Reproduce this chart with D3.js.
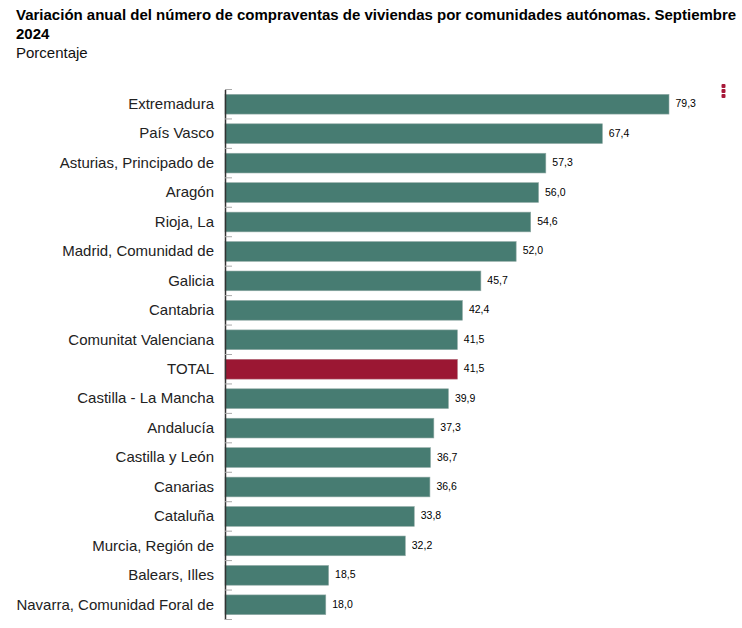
<!DOCTYPE html>
<html>
<head>
<meta charset="utf-8">
<script src="https://cdn.jsdelivr.net/npm/d3@7"></script>
<style>
  html, body { margin: 0; padding: 0; background: #fff; }
  svg { display: block; }
  text { font-family: "Liberation Sans", Arial, sans-serif; }
</style>
</head>
<body>
<script>
var categories = ["Extremadura", "País Vasco", "Asturias, Principado de", "Aragón", "Rioja, La",
  "Madrid, Comunidad de", "Galicia", "Cantabria", "Comunitat Valenciana", "TOTAL",
  "Castilla - La Mancha", "Andalucía", "Castilla y León", "Canarias", "Cataluña",
  "Murcia, Región de", "Balears, Illes", "Navarra, Comunidad Foral de"];
var values = [79.3, 67.4, 57.3, 56.0, 54.6, 52.0, 45.7, 42.4, 41.5, 41.5, 39.9, 37.3, 36.7, 36.6, 33.8, 32.2, 18.5, 18.0];
var valueLabels = ["79,3", "67,4", "57,3", "56,0", "54,6", "52,0", "45,7", "42,4", "41,5", "41,5", "39,9", "37,3", "36,7", "36,6", "33,8", "32,2", "18,5", "18,0"];
var titleLines = ["Variación anual del número de compraventas de viviendas por comunidades autónomas. Septiembre", "2024"];
var subtitle = "Porcentaje";

var width = 742, height = 628;
var margin = {top: 89.5, left: 225, bottom: 8.5};

var svg = d3.select("body").append("svg")
  .attr("width", width)
  .attr("height", height);

// Title
svg.selectAll(".title").data(titleLines).enter().append("text")
  .attr("class", "title")
  .attr("x", 16)
  .attr("y", function(d, i) { return 20 + i * 18.5; })
  .attr("font-size", "15px")
  .attr("font-weight", "bold")
  .attr("fill", "#000")
  .text(function(d) { return d; });

svg.append("text")
  .attr("x", 16)
  .attr("y", 58)
  .attr("font-size", "15px")
  .attr("fill", "#111")
  .text(subtitle);

// Scales
var x = d3.scaleLinear().domain([0, 79.3]).range([margin.left, 669]);
var y = d3.scaleBand().domain(categories)
  .range([margin.top, height - margin.bottom])
  .paddingInner(0.33).paddingOuter(0.165);

// Bars
svg.selectAll(".bar").data(categories).enter().append("rect")
  .attr("class", "bar")
  .attr("x", x(0))
  .attr("y", function(d) { return y(d); })
  .attr("width", function(d, i) { return x(values[i]) - x(0); })
  .attr("height", y.bandwidth())
  .attr("fill", function(d) { return d === "TOTAL" ? "#9b1733" : "#477c72"; })
  .attr("stroke", function(d) { return d === "TOTAL" ? "#b06a78" : "#8fa9a4"; })
  .attr("stroke-width", 0.6);

// Value labels
svg.selectAll(".val").data(categories).enter().append("text")
  .attr("class", "val")
  .attr("x", function(d, i) { return x(values[i]) + 6.5; })
  .attr("y", function(d) { return y(d) + y.bandwidth() / 2 + 3; })
  .attr("font-size", "10.5px")
  .attr("fill", "#000")
  .text(function(d, i) { return valueLabels[i]; });

// Y axis, ticks sit between the bars and point inward
var axis = svg.append("g")
  .attr("transform", "translate(" + margin.left + ",0)")
  .call(d3.axisLeft(y).tickSize(0).tickPadding(11));

axis.select(".domain").attr("stroke", "#333").attr("stroke-width", 1.5);
axis.selectAll("text")
  .attr("font-size", "15px")
  .attr("font-family", '"Liberation Sans", Arial, sans-serif')
  .attr("fill", "#222");

var step = y.step();
svg.selectAll(".tick-mark").data(d3.range(categories.length + 1)).enter().append("line")
  .attr("class", "tick-mark")
  .attr("x1", margin.left)
  .attr("x2", margin.left + 7)
  .attr("y1", function(d) { return y.range()[0] + d * step; })
  .attr("y2", function(d) { return y.range()[0] + d * step; })
  .attr("stroke", "#aaa");

// Menu dots
svg.selectAll(".dot").data([0, 1, 2]).enter().append("rect")
  .attr("class", "dot")
  .attr("x", 721.5)
  .attr("y", function(d) { return 84 + d * 5; })
  .attr("width", 4)
  .attr("height", 4)
  .attr("rx", 1)
  .attr("fill", "#a8193a");
</script>
</body>
</html>
